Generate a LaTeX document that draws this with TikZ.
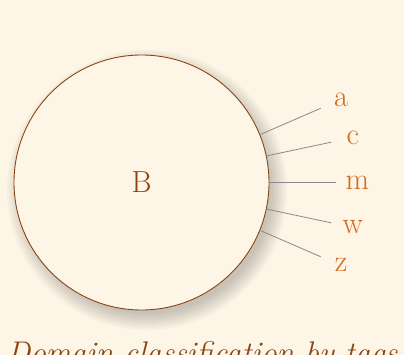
\documentclass[tikz,border=0pt]{standalone}
\usetikzlibrary{calc}
\definecolor{bgcream}{HTML}{FDF5E6}
\definecolor{rimbrown}{HTML}{8B4513}
\definecolor{tagorange}{HTML}{D2691E}
\definecolor{spokegray}{HTML}{8A8A8A}
\begin{document}
\begin{tikzpicture}[x=1pt,y=1pt,
  bignode/.style={circle,draw=rimbrown,line width=0.9pt,fill=bgcream,minimum size=255pt,inner sep=0pt,outer sep=0pt,text=rimbrown,font=\fontsize{30.5}{36}\selectfont},
  taglabel/.style={text=tagorange,font=\fontsize{30.5}{36}\selectfont,inner sep=0pt},
  spoke/.style={draw=spokegray,line width=0.8pt},
  captext/.style={text=rimbrown,font=\fontsize{31.3}{36}\selectfont\itshape,inner sep=0pt}]
\fill[bgcream] (0,0) rectangle (404,-355);
\useasboundingbox (0,0) rectangle (404,-355);
\begin{scope}
\clip (0,0) rectangle (404,-355);
% soft shadow
\foreach \r in {16,14,12,10,8,6,4,2,0}{
  \fill[black,opacity=0.022] (147,-190) circle (124+\r);
}
\node[bignode] (B) at (141.5,-182.5) {B};
\foreach \ang/\nm in {22.5/a,12/c,0/m,-12/w,-22.5/z}{
  \coordinate (e\nm) at ($(B.center)+(\ang:194)$);
  \node[taglabel] (\nm) at ($(B.center)+(\ang:216)$) {\nm};
  \draw[spoke] (B.\ang) -- (e\nm);
}
\node[captext,anchor=base west] (cap) at (7,-363) {Domain classification by tags};
\end{scope}
\end{tikzpicture}
\end{document}
